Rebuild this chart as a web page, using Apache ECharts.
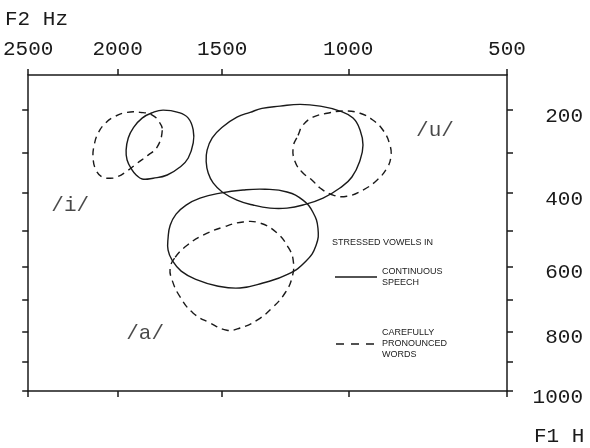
<!DOCTYPE html>
<html>
<head>
<meta charset="utf-8">
<script src="https://cdn.jsdelivr.net/npm/echarts@6/dist/echarts.min.js"></script>
<style>
html,body{margin:0;padding:0;background:#fff;}
#chart{width:590px;height:448px;}
</style>
</head>
<body>
<div id="chart"></div>
<script>
// ---- data (Hz) ----
const f2Ticks = [2500, 2000, 1500, 1000, 500];
const f2Labels = [2500, 2000, 1500, 1000, 500];
const f1Ticks = [200, 300, 400, 500, 600, 700, 800, 900, 1000];
const f1Labels = [200, 400, 600, 800, 1000];
const f2Range = [500, 2500];
const f1Range = [123, 1000];

// [F2, F1] contour points
const iSolid = [[1772,200],[1700,205],[1653,218],[1630,246],[1630,276],[1653,312],[1691,334],[1752,354],[1820,362],[1875,364],[1905,354],[1925,342],[1951,317],[1956,293],[1945,264],[1920,241],[1875,218],[1820,205]];
const iDashed = [[1776,246],[1801,286],[1845,305],[1900,325],[1951,344],[2003,359],[2039,362],[2081,359],[2114,342],[2130,312],[2124,281],[2103,253],[2065,230],[2013,214],[1951,205],[1885,205],[1825,211],[1791,227]];
const uSolid = [[1571,322],[1567,293],[1544,264],[1500,239],[1436,216],[1380,205],[1331,196],[1258,191],[1179,187],[1103,191],[1030,202],[983,218],[958,246],[948,281],[958,317],[987,359],[1030,387],[1092,413],[1168,431],[1230,439],[1298,439],[1368,431],[1436,418],[1500,397],[1540,374],[1562,349]];
const uDashed = [[1187,258],[1168,234],[1130,216],[1077,207],[1019,202],[958,207],[913,223],[879,246],[856,281],[853,310],[866,337],[900,367],[948,392],[1005,408],[1055,405],[1103,387],[1133,367],[1168,349],[1198,322],[1206,286]];
const aSolid = [[1748,520],[1738,485],[1710,455],[1663,431],[1599,413],[1509,400],[1410,392],[1318,390],[1230,397],[1168,418],[1130,450],[1111,493],[1118,540],[1156,585],[1226,623],[1327,649],[1423,664],[1522,658],[1612,640],[1686,614],[1729,582],[1748,554]];
const aDashed = [[1714,574],[1658,540],[1585,512],[1496,490],[1410,476],[1339,479],[1270,506],[1226,545],[1206,582],[1210,632],[1238,679],[1286,722],[1351,763],[1423,788],[1479,795],[1553,772],[1630,741],[1691,691],[1729,640],[1738,605]];

const vowelNames = ['/i/', '/u/', '/a/'];
const vowelF2 = [2256, 711, 1860];
const vowelF1 = [431, 246, 804];

// ---- perceptual frequency scale used by both axes ----
const W = f => Math.log10(1 + f / 1200);
const near = (a, b) => Math.abs(a - b) < 1e-9;
const labelOf = (list) => (v) => { const t = list.find(x => near(W(x), v)); return t === undefined ? '' : String(t); };

const INK = '#1a1a1a';
const MONO = '"Liberation Mono", "DejaVu Sans Mono", monospace';
const FS = 21;

function contour(name, pts, dashed) {
  const data = pts.map(p => [W(p[0]), W(p[1])]);
  return {
    type: 'custom', name, xAxisIndex: 0, yAxisIndex: 0, silent: true, animation: false,
    data,
    renderItem(params, api) {
      if (params.dataIndex !== 0) return null;
      const points = data.map(d => api.coord(d));
      return {
        type: 'polygon',
        shape: { points, smooth: 0.45 },
        style: { fill: 'none', stroke: INK, lineWidth: 1.4, lineDash: dashed ? [7, 5] : null }
      };
    }
  };
}

const axisLine = { show: true, onZero: false, lineStyle: { color: INK, width: 1.5 } };
const tickStyle = { color: INK, width: 1.5 };

const option = {
  backgroundColor: '#fff',
  animation: false,
  grid: { left: 28, right: 83, top: 75, bottom: 57, containLabel: false },
  xAxis: [
    {
      type: 'value', position: 'top', inverse: true, min: W(f2Range[0]), max: W(f2Range[1]),
      axisLine, splitLine: { show: false },
      axisTick: { show: true, length: 6, customValues: f2Ticks.map(W), lineStyle: tickStyle },
      axisLabel: { show: true, customValues: f2Labels.map(W), formatter: labelOf(f2Labels), margin: 15,
        fontFamily: MONO, fontSize: FS, color: INK }
    },
    {
      type: 'value', position: 'bottom', inverse: true, min: W(f2Range[0]), max: W(f2Range[1]),
      axisLine, splitLine: { show: false },
      axisTick: { show: true, length: 6, customValues: f2Ticks.map(W), lineStyle: tickStyle },
      axisLabel: { show: false }
    }
  ],
  yAxis: [
    {
      type: 'value', position: 'right', inverse: true, min: W(f1Range[0]), max: W(f1Range[1]),
      axisLine, splitLine: { show: false },
      axisTick: { show: true, length: 6, customValues: f1Ticks.map(W), lineStyle: tickStyle },
      axisLabel: { show: true, customValues: f1Labels.map(W), formatter: labelOf(f1Labels), margin: 76, align: 'right',
        verticalAlign: 'top', lineHeight: 12, fontFamily: MONO, fontSize: FS, color: INK }
    },
    {
      type: 'value', position: 'left', inverse: true, min: W(f1Range[0]), max: W(f1Range[1]),
      axisLine, splitLine: { show: false },
      axisTick: { show: true, length: 6, customValues: f1Ticks.map(W), lineStyle: tickStyle },
      axisLabel: { show: false }
    }
  ],
  series: [
    contour('i continuous', iSolid, false),
    contour('i careful', iDashed, true),
    contour('u continuous', uSolid, false),
    contour('u careful', uDashed, true),
    contour('a continuous', aSolid, false),
    contour('a careful', aDashed, true),
    {
      type: 'scatter', xAxisIndex: 0, yAxisIndex: 0, symbolSize: 0, silent: true,
      data: vowelNames.map((n, i) => ({ name: n, value: [W(vowelF2[i]), W(vowelF1[i])] })),
      label: { show: true, position: 'inside', formatter: p => p.name, fontFamily: MONO, fontSize: FS, color: INK }
    }
  ],
  graphic: [
    { type: 'text', x: 5, y: 19, style: { text: 'F2 Hz', font: FS + 'px ' + MONO, fill: INK, verticalAlign: 'middle' } },
    { type: 'text', x: 534, y: 436, style: { text: 'F1 H', font: FS + 'px ' + MONO, fill: INK, verticalAlign: 'middle' } },
    { type: 'text', x: 332, y: 243, style: { text: 'STRESSED VOWELS IN', font: '9px "Liberation Sans", sans-serif', fill: INK, verticalAlign: 'middle' } },
    { type: 'line', shape: { x1: 335, y1: 277, x2: 377, y2: 277 }, style: { stroke: INK, lineWidth: 1.3 } },
    { type: 'text', x: 382, y: 266, style: { text: 'CONTINUOUS\nSPEECH', font: '9px "Liberation Sans", sans-serif', fill: INK, lineHeight: 11 } },
    { type: 'line', shape: { x1: 336, y1: 344, x2: 378, y2: 344 }, style: { stroke: INK, lineWidth: 1.3, lineDash: [8, 7] } },
    { type: 'text', x: 382, y: 327, style: { text: 'CAREFULLY\nPRONOUNCED\nWORDS', font: '9px "Liberation Sans", sans-serif', fill: INK, lineHeight: 11 } }
  ]
};

const chart = echarts.init(document.getElementById('chart'), null, { renderer: 'canvas' });
chart.setOption(option);
</script>
</body>
</html>
